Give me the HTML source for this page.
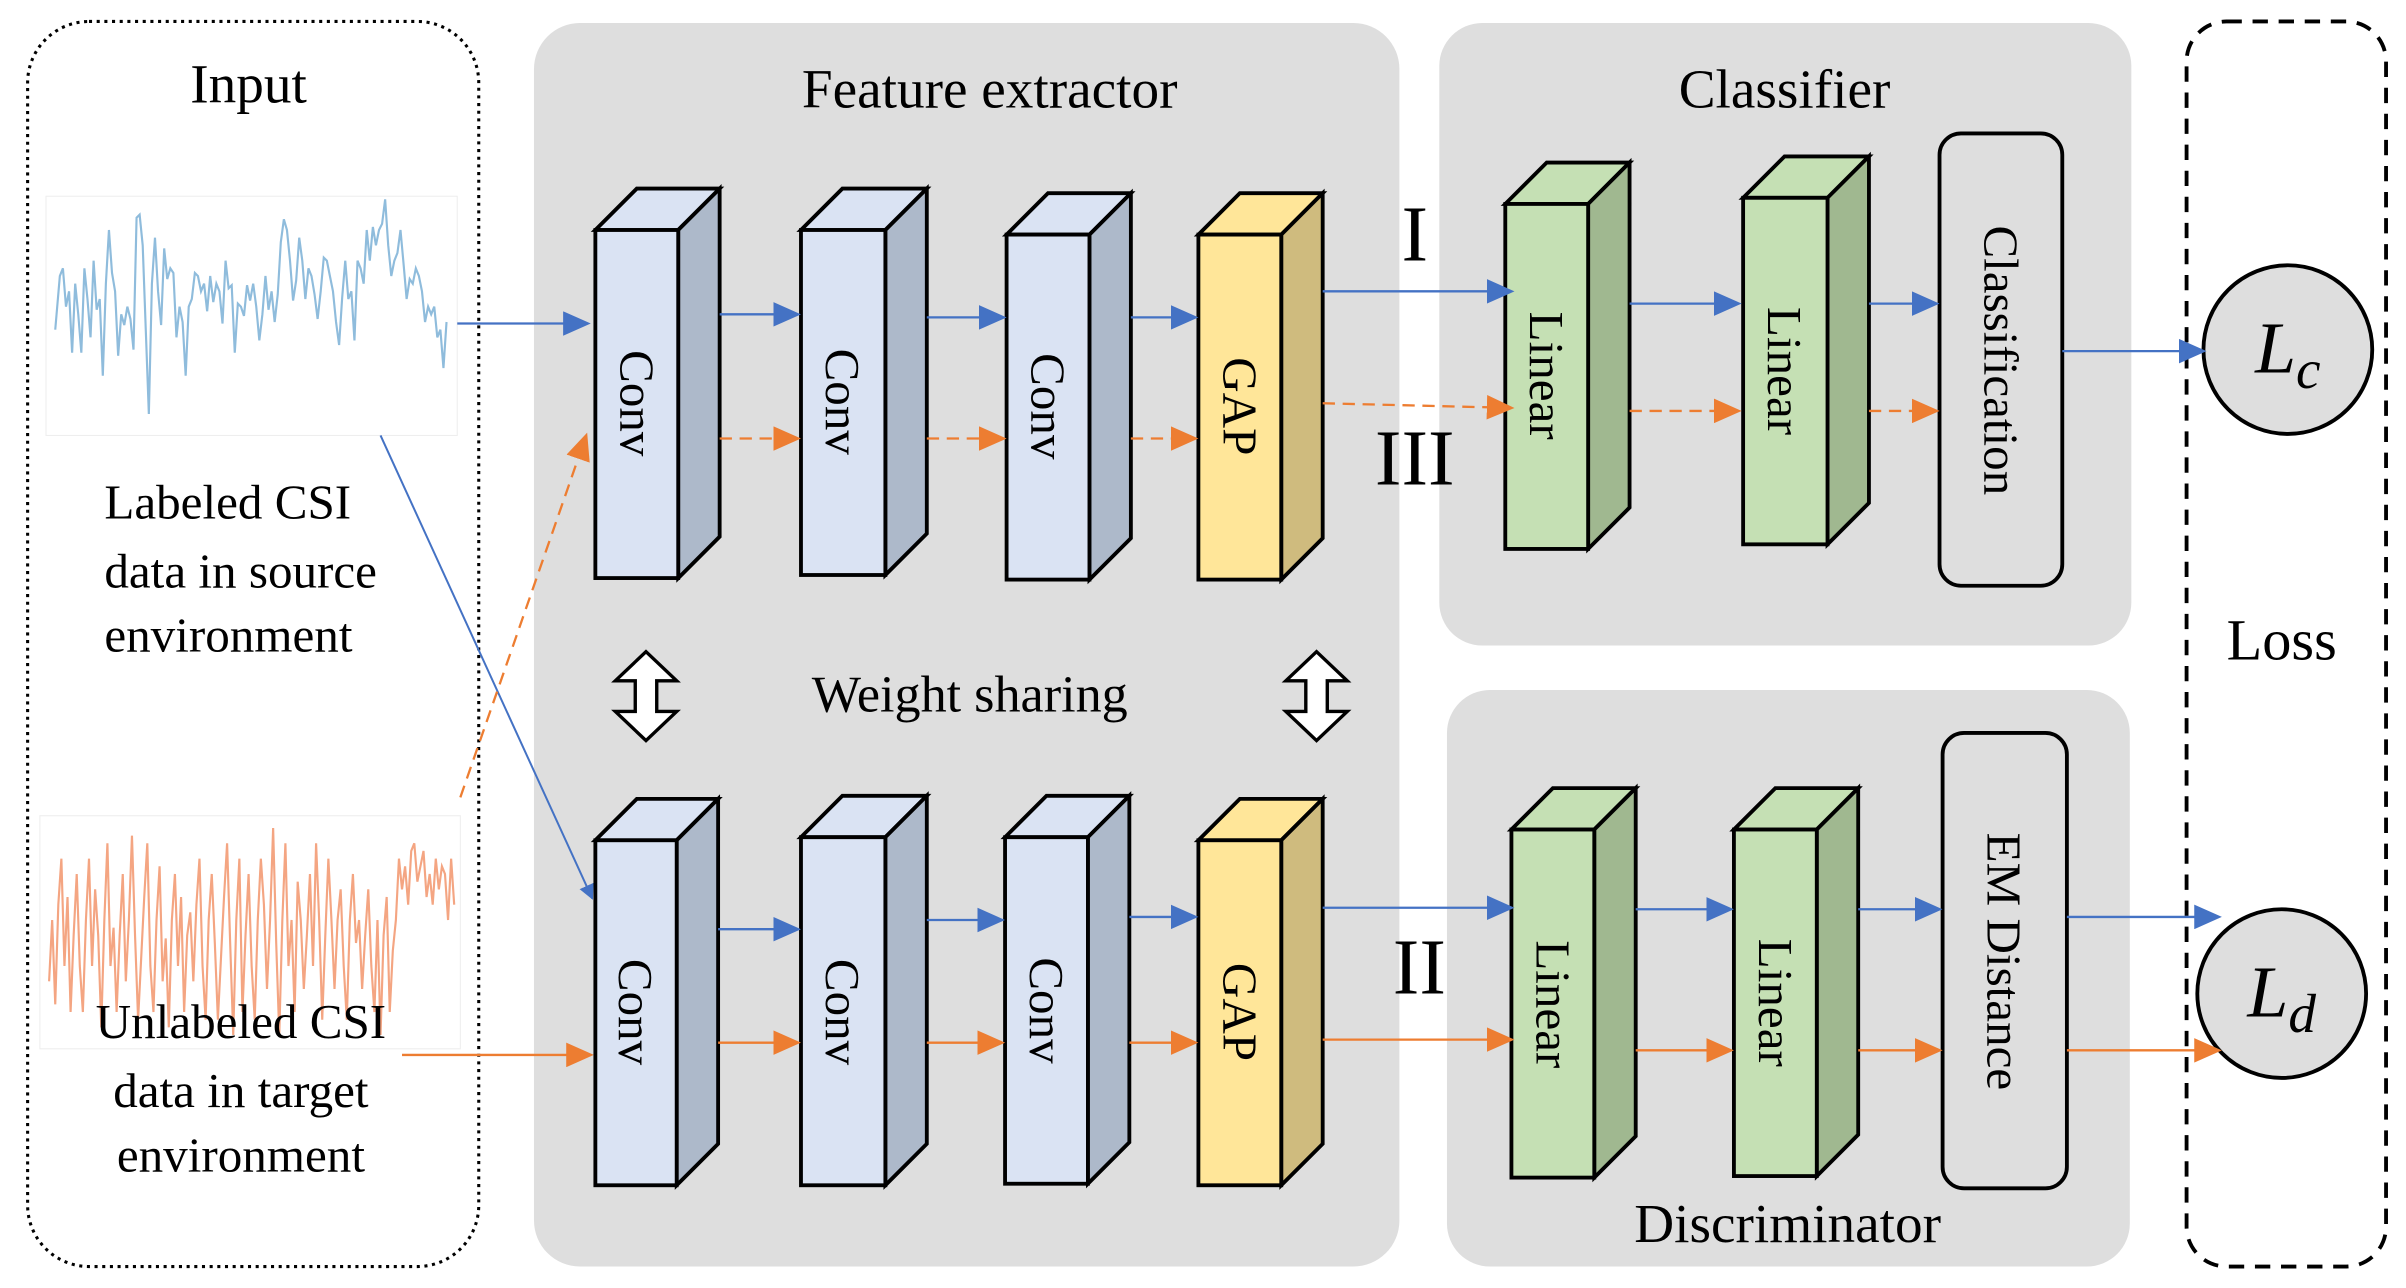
<!DOCTYPE html>
<html><head><meta charset="utf-8"><style>
html,body{margin:0;padding:0;background:#fff}
svg{display:block}
svg, svg text{font-family:"Liberation Serif","DejaVu Serif",serif}
text{fill:#000}
</style></head><body>
<svg width="2406" height="1288" viewBox="0 0 1568 840" preserveAspectRatio="none" xmlns="http://www.w3.org/2000/svg" font-family="Liberation Serif, DejaVu Serif, serif">
<defs>
<marker id="abL" markerWidth="18" markerHeight="16" refX="16" refY="8" orient="auto" markerUnits="userSpaceOnUse" viewBox="0 0 18 16"><path d="M0,0 L18,8 L0,16z" fill="#4472c4"/></marker>
<marker id="aoL" markerWidth="18" markerHeight="16" refX="16" refY="8" orient="auto" markerUnits="userSpaceOnUse" viewBox="0 0 18 16"><path d="M0,0 L18,8 L0,16z" fill="#ed7d31"/></marker>
<marker id="ab" markerWidth="10" markerHeight="10" refX="9" refY="5" orient="auto" markerUnits="userSpaceOnUse" viewBox="0 0 10 10"><path d="M0,0 L10,5 L0,10z" fill="#4472c4"/></marker>
</defs>

<rect x="18" y="14" width="294" height="812" rx="40" fill="#fff" stroke="#000" stroke-width="2" stroke-dasharray="2,3"/>
<rect x="348" y="15" width="564" height="811" rx="30" fill="#dedede"/>
<rect x="938" y="15" width="451" height="406" rx="28" fill="#dedede"/>
<rect x="943" y="450" width="445" height="376" rx="28" fill="#dedede"/>
<rect x="1425" y="14" width="130" height="812" rx="26" fill="#fff" stroke="#000" stroke-width="2.5" stroke-dasharray="10,7"/>

<text x="162" y="67" font-size="36" text-anchor="middle">Input</text>
<text x="645" y="70" font-size="36" text-anchor="middle">Feature extractor</text>
<text x="1163" y="70" font-size="36" text-anchor="middle">Classifier</text>
<text x="1165" y="810" font-size="36" text-anchor="middle">Discriminator</text>
<text x="1487" y="430" font-size="38" text-anchor="middle">Loss</text>
<text x="632" y="464" font-size="34" text-anchor="middle">Weight sharing</text>

<rect x="30" y="128" width="268" height="156" fill="#fff" stroke="#eee" stroke-width="0.7"/>
<polyline fill="none" stroke="#8fbcdc" stroke-width="1.4" points="36,215 39,180 41,175 43,200 45,190 47,230 49,185 51,205 53,230 55,175 57,195 59,220 61,170 63,202 65,195 67,245 69,185 71,150 73,178 75,190 77,232 79,205 81,212 83,200 85,208 87,228 89,142 91,140 93,160 95,215 97,270 99,185 101,155 103,190 105,212 107,162 109,182 111,175 113,178 115,220 117,200 119,210 121,245 123,200 125,195 127,178 129,180 131,190 133,185 135,203 137,180 139,197 141,185 143,190 145,211 147,170 149,188 151,186 153,230 155,198 157,200 159,206 161,186 163,196 165,185 167,200 169,222 171,205 173,180 175,202 177,190 179,210 181,192 183,158 185,143 187,150 189,170 191,196 193,183 195,155 197,170 199,195 201,175 203,180 205,192 207,208 209,190 211,168 213,170 215,180 217,190 219,210 221,225 223,194 225,170 227,195 229,190 231,222 233,170 235,175 237,185 239,150 241,170 243,148 245,160 247,150 249,146 251,130 253,160 255,180 257,170 259,165 261,150 263,172 265,195 267,182 269,185 271,175 273,180 275,190 277,210 279,200 281,205 283,200 285,220 287,215 289,240 291,210"/>
<rect x="26" y="532" width="274" height="152" fill="#fff" stroke="#eee" stroke-width="0.7"/>
<polyline fill="none" stroke="#f4a582" stroke-width="1.4" points="32,640 34,600 36,655 38,590 40,560 42,630 44,585 46,660 48,610 50,570 52,630 54,660 56,600 58,560 60,630 62,580 64,610 66,670 68,600 70,550 72,630 74,605 76,660 78,610 80,570 82,640 84,600 86,545 88,610 90,665 92,625 94,585 96,550 98,630 100,660 102,600 104,565 106,640 108,612 110,670 112,600 114,570 116,630 118,585 120,660 122,610 124,595 126,640 128,590 130,560 132,630 134,665 136,600 138,570 140,615 142,665 144,625 146,585 148,550 150,615 152,675 154,600 156,560 158,660 160,610 162,570 164,630 166,665 168,600 170,560 172,590 174,645 176,600 178,540 180,615 182,675 184,600 186,550 188,630 190,600 192,660 194,575 196,600 198,645 200,610 202,570 204,630 206,550 208,600 210,665 212,610 214,560 216,600 218,645 220,600 222,580 224,630 226,665 228,600 230,570 232,615 234,600 236,645 238,610 240,580 242,630 244,660 246,600 248,675 250,610 252,585 254,660 256,620 258,600 260,560 262,580 264,565 266,590 268,555 270,550 272,575 274,565 276,555 278,585 280,570 282,590 284,560 286,580 288,565 290,570 292,600 294,560 296,590"/>

<text x="68" y="338" font-size="32">Labeled CSI</text>
<text x="68" y="383" font-size="32">data in source</text>
<text x="68" y="425" font-size="32">environment</text>
<text x="157" y="677" font-size="32" text-anchor="middle">Unlabeled CSI</text>
<text x="157" y="722" font-size="32" text-anchor="middle">data in target</text>
<text x="157" y="764" font-size="32" text-anchor="middle">environment</text>

<line x1="248" y1="284" x2="386" y2="586" stroke="#4472c4" stroke-width="1.3" marker-end="url(#ab)"/>
<line x1="300" y1="520" x2="382" y2="284" stroke="#ed7d31" stroke-width="1.5" stroke-dasharray="8,5" marker-end="url(#aoL)"/>
<line x1="298" y1="211" x2="383" y2="211" stroke="#4472c4" stroke-width="1.5" marker-end="url(#abL)"/>
<line x1="262" y1="688" x2="385" y2="688" stroke="#ed7d31" stroke-width="1.5" marker-end="url(#aoL)"/>

<g stroke="#000" stroke-width="2.5" stroke-linejoin="miter">
<polygon points="388,150 415,123 469,123 442,150" fill="#dae3f3"/><polygon points="442,150 469,123 469,350 442,377" fill="#adb9ca"/><rect x="388" y="150" width="54" height="227" fill="#dae3f3"/>
<polygon points="522,150 549,123 604,123 577,150" fill="#dae3f3"/><polygon points="577,150 604,123 604,348 577,375" fill="#adb9ca"/><rect x="522" y="150" width="55" height="225" fill="#dae3f3"/>
<polygon points="656,153 683,126 737,126 710,153" fill="#dae3f3"/><polygon points="710,153 737,126 737,351 710,378" fill="#adb9ca"/><rect x="656" y="153" width="54" height="225" fill="#dae3f3"/>
<polygon points="781,153 808,126 862,126 835,153" fill="#ffe699"/><polygon points="835,153 862,126 862,351 835,378" fill="#cfbb7e"/><rect x="781" y="153" width="54" height="225" fill="#ffe699"/>
<polygon points="388,548 415,521 468,521 441,548" fill="#dae3f3"/><polygon points="441,548 468,521 468,746 441,773" fill="#adb9ca"/><rect x="388" y="548" width="53" height="225" fill="#dae3f3"/>
<polygon points="522,546 549,519 604,519 577,546" fill="#dae3f3"/><polygon points="577,546 604,519 604,746 577,773" fill="#adb9ca"/><rect x="522" y="546" width="55" height="227" fill="#dae3f3"/>
<polygon points="655,546 682,519 736,519 709,546" fill="#dae3f3"/><polygon points="709,546 736,519 736,745 709,772" fill="#adb9ca"/><rect x="655" y="546" width="54" height="226" fill="#dae3f3"/>
<polygon points="781,548 808,521 862,521 835,548" fill="#ffe699"/><polygon points="835,548 862,521 862,746 835,773" fill="#cfbb7e"/><rect x="781" y="548" width="54" height="225" fill="#ffe699"/>
<polygon points="981,133 1008,106 1062,106 1035,133" fill="#c5e0b4"/><polygon points="1035,133 1062,106 1062,331 1035,358" fill="#a0b890"/><rect x="981" y="133" width="54" height="225" fill="#c5e0b4"/>
<polygon points="1136,129 1163,102 1218,102 1191,129" fill="#c5e0b4"/><polygon points="1191,129 1218,102 1218,328 1191,355" fill="#a0b890"/><rect x="1136" y="129" width="55" height="226" fill="#c5e0b4"/>
<polygon points="985,541 1012,514 1066,514 1039,541" fill="#c5e0b4"/><polygon points="1039,541 1066,514 1066,741 1039,768" fill="#a0b890"/><rect x="985" y="541" width="54" height="227" fill="#c5e0b4"/>
<polygon points="1130,541 1157,514 1211,514 1184,541" fill="#c5e0b4"/><polygon points="1184,541 1211,514 1211,740 1184,767" fill="#a0b890"/><rect x="1130" y="541" width="54" height="226" fill="#c5e0b4"/>
<rect x="1264" y="87" width="80" height="295" rx="14" fill="#dedede"/>
<rect x="1266" y="478" width="81" height="297" rx="14" fill="#dedede"/>
<circle cx="1491" cy="228" r="55" fill="#dedede"/>
<circle cx="1487" cy="648" r="55" fill="#dedede"/>
</g>

<g font-size="32">
<text transform="translate(415,263) rotate(90)" text-anchor="middle" dominant-baseline="central">Conv</text>
<text transform="translate(549,262) rotate(90)" text-anchor="middle" dominant-baseline="central">Conv</text>
<text transform="translate(683,265) rotate(90)" text-anchor="middle" dominant-baseline="central">Conv</text>
<text transform="translate(808,265) rotate(90)" text-anchor="middle" dominant-baseline="central">GAP</text>
<text transform="translate(414,660) rotate(90)" text-anchor="middle" dominant-baseline="central">Conv</text>
<text transform="translate(549,660) rotate(90)" text-anchor="middle" dominant-baseline="central">Conv</text>
<text transform="translate(682,659) rotate(90)" text-anchor="middle" dominant-baseline="central">Conv</text>
<text transform="translate(808,660) rotate(90)" text-anchor="middle" dominant-baseline="central">GAP</text>
<text transform="translate(1008,245) rotate(90)" text-anchor="middle" dominant-baseline="central">Linear</text>
<text transform="translate(1163,242) rotate(90)" text-anchor="middle" dominant-baseline="central">Linear</text>
<text transform="translate(1012,655) rotate(90)" text-anchor="middle" dominant-baseline="central">Linear</text>
<text transform="translate(1157,654) rotate(90)" text-anchor="middle" dominant-baseline="central">Linear</text>
<text transform="translate(1304,235) rotate(90)" text-anchor="middle" dominant-baseline="central">Classification</text>
<text transform="translate(1306,627) rotate(90)" text-anchor="middle" dominant-baseline="central">EM Distance</text>
</g>

<text x="922" y="170" font-size="52" text-anchor="middle">I</text>
<text x="922" y="316" font-size="52" text-anchor="middle">III</text>
<text x="925" y="648" font-size="52" text-anchor="middle">II</text>
<text x="1491" y="243" font-size="48" font-style="italic" text-anchor="middle">L<tspan font-size="36" dy="10">c</tspan></text>
<text x="1487" y="663" font-size="48" font-style="italic" text-anchor="middle">L<tspan font-size="36" dy="10">d</tspan></text>

<g fill="#fff" stroke="#000" stroke-width="2.2">
<polygon points="421,425 441,444 428,444 428,464 441,464 421,483 401,464 414,464 414,444 401,444"/>
<polygon points="858,425 878,444 865,444 865,464 878,464 858,483 838,464 851,464 851,444 838,444"/>
</g>

<g stroke-width="1.5" fill="none">
<g stroke="#4472c4" marker-end="url(#abL)">
<line x1="469" y1="205" x2="520" y2="205" marker-end="url(#abL)"/>
<line x1="604" y1="207" x2="654" y2="207" marker-end="url(#abL)"/>
<line x1="737" y1="207" x2="779" y2="207" marker-end="url(#abL)"/>
<line x1="862" y1="190" x2="985" y2="190" marker-end="url(#abL)"/>
<line x1="1062" y1="198" x2="1133" y2="198" marker-end="url(#abL)"/>
<line x1="1218" y1="198" x2="1262" y2="198" marker-end="url(#abL)"/>
<line x1="1344" y1="229" x2="1436" y2="229" marker-end="url(#abL)"/>
<line x1="468" y1="606" x2="520" y2="606" marker-end="url(#abL)"/>
<line x1="604" y1="600" x2="653" y2="600" marker-end="url(#abL)"/>
<line x1="736" y1="598" x2="779" y2="598" marker-end="url(#abL)"/>
<line x1="862" y1="592" x2="985" y2="592" marker-end="url(#abL)"/>
<line x1="1066" y1="593" x2="1128" y2="593" marker-end="url(#abL)"/>
<line x1="1211" y1="593" x2="1264" y2="593" marker-end="url(#abL)"/>
<line x1="1347" y1="598" x2="1446" y2="598" marker-end="url(#abL)"/>
</g>
<g stroke="#ed7d31" stroke-dasharray="8,5">
<line x1="469" y1="286" x2="520" y2="286" marker-end="url(#aoL)"/>
<line x1="604" y1="286" x2="654" y2="286" marker-end="url(#aoL)"/>
<line x1="737" y1="286" x2="779" y2="286" marker-end="url(#aoL)"/>
<line x1="862" y1="263" x2="985" y2="266" marker-end="url(#aoL)"/>
<line x1="1062" y1="268" x2="1133" y2="268" marker-end="url(#aoL)"/>
<line x1="1218" y1="268" x2="1262" y2="268" marker-end="url(#aoL)"/>
</g>
<g stroke="#ed7d31">
<line x1="468" y1="680" x2="520" y2="680" marker-end="url(#aoL)"/>
<line x1="604" y1="680" x2="653" y2="680" marker-end="url(#aoL)"/>
<line x1="736" y1="680" x2="779" y2="680" marker-end="url(#aoL)"/>
<line x1="862" y1="678" x2="985" y2="678" marker-end="url(#aoL)"/>
<line x1="1066" y1="685" x2="1128" y2="685" marker-end="url(#aoL)"/>
<line x1="1211" y1="685" x2="1264" y2="685" marker-end="url(#aoL)"/>
<line x1="1347" y1="685" x2="1446" y2="685" marker-end="url(#aoL)"/>
</g>
</g>
</svg>
</body></html>
